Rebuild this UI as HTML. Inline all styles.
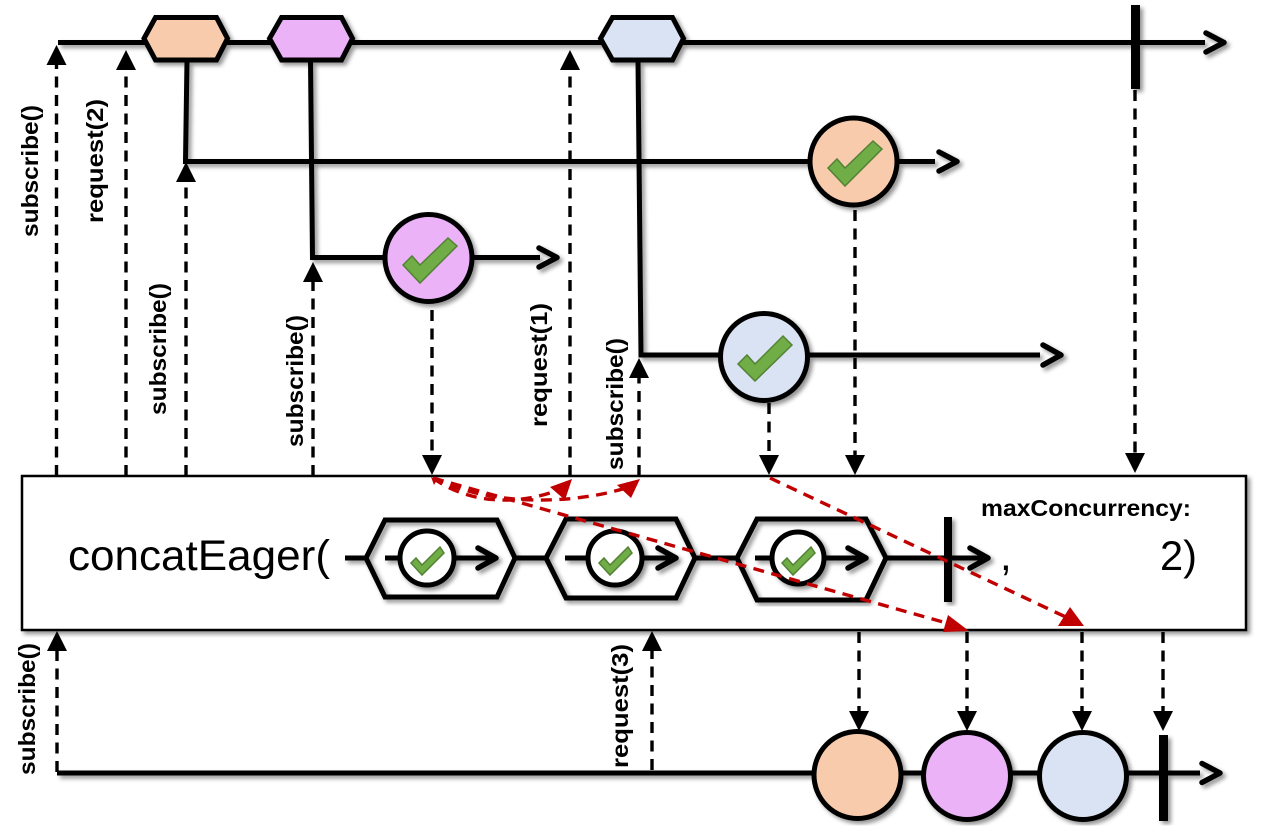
<!DOCTYPE html>
<html><head><meta charset="utf-8"><style>
html,body{margin:0;padding:0;background:#fff}
svg{display:block}
.l{font-family:"Liberation Sans",sans-serif;font-weight:bold;font-size:23px;fill:#000}
.k{fill:none;stroke:#000;stroke-width:5}
.a{fill:none;stroke:#000;stroke-width:5.5;stroke-linecap:round;stroke-linejoin:round}
.d{fill:none;stroke:#000;stroke-width:3.4;stroke-dasharray:11 7.5}
.r{fill:none;stroke:#c00000;stroke-width:3.4;stroke-dasharray:11 7.5}
.c{stroke:#000;stroke-width:5}
.t{fill:#70ad47;stroke:#548235;stroke-width:1.5}
</style></head><body>
<svg width="1262" height="838" viewBox="0 0 1262 838" xmlns="http://www.w3.org/2000/svg">
<defs>
<filter id="s" x="-5%" y="-5%" width="110%" height="110%"><feDropShadow dx="3" dy="3" stdDeviation="2.2" flood-color="#000" flood-opacity=".42"/></filter>
</defs>
<rect width="1262" height="838" fill="#fff"/>

<g filter="url(#s)">
<path class="k" d="M187 60L185.500 161.500H935M310.500 60L312.500 257.500H540M638 60L641 355H1040M58 42.500H1205"/>
<path class="a" d="M939 152L957 161.500L939 171M539 248L557 257.500L539 267M1043 345L1061 355L1043 365M1206 33L1224 42.500L1206 52"/>
<polygon class="c" points="144,38.500 155.500,17.500 216.500,17.500 227.500,38.500 216.500,60 155.500,60" fill="#f8cbad"/>
<polygon class="c" points="269.500,38.500 281.500,17.500 341.500,17.500 352.500,38.500 341.500,60 281.500,60" fill="#ebb2f8"/>
<polygon class="c" points="600.500,38.500 612.500,17.500 672.500,17.500 683.500,38.500 672.500,60 612.500,60" fill="#dae3f3"/>
<rect x="1131" y="5" width="9" height="84" fill="#000"/>
<circle class="c" cx="853.500" cy="161.500" r="43.500" fill="#f8cbad"/>
<circle class="c" cx="428.500" cy="258" r="43.500" fill="#ebb2f8"/>
<circle class="c" cx="764" cy="357" r="43.500" fill="#dae3f3"/>
</g>
<polygon class="t" points="828,168 837,159 845,168 873,141 882,149 845,186"/>
<polygon class="t" points="403,265 412,256 420,265 448,238 457,246 420,283"/>
<polygon class="t" points="738,364 747,355 755,364 783,336 792,345 755,381"/>

<g>
<line class="d" x1="56.500" y1="476" x2="56.500" y2="64"/><polygon points="46.500,65 66.500,65 56.500,45"/>
<line class="d" x1="126" y1="476" x2="126" y2="70"/><polygon points="116,70 136,70 126,50"/>
<line class="d" x1="186" y1="476" x2="186" y2="182"/><polygon points="176,182 196,182 186,162"/>
<line class="d" x1="313" y1="476" x2="313" y2="282"/><polygon points="303,282 323,282 313,262"/>
<line class="d" x1="570" y1="476" x2="570" y2="70"/><polygon points="560,70 580,70 570,50"/>
<line class="d" x1="639" y1="476" x2="639" y2="378"/><polygon points="629,378 649,378 639,358"/>
<line class="d" x1="432" y1="310" x2="432" y2="456"/><polygon points="422,455 442,455 432,475"/>
<line class="d" x1="769" y1="403" x2="769" y2="456"/><polygon points="759,455 779,455 769,475"/>
<line class="d" x1="855" y1="210" x2="855" y2="456"/><polygon points="845,455 865,455 855,475"/>
<line class="d" x1="1135" y1="90" x2="1135" y2="454"/><polygon points="1125,453 1145,453 1135,473"/>
</g>

<rect x="22" y="476" width="1224" height="154" fill="#fff" stroke="#000" stroke-width="2.500" filter="url(#s)"/>

<g filter="url(#s)">
<path class="k" d="M345 558H366M385 558H495M515 558H546M565 558H675M695 558H737M755 558H866M886 558H985"/>
<path class="a" d="M478 548L496 558L478 568M658 548L676 558L658 568M848 548L866 558L848 568M970 548L988 558L970 568"/>
<polygon points="366,558 385,520 497,520 515,558 497,597 385,597" fill="none" stroke="#000" stroke-width="5"/>
<polygon points="546,558 566,519 676,519 695,558 676,598 566,598" fill="none" stroke="#000" stroke-width="5"/>
<polygon points="737,558 757,519 866,519 886,558 866,600 757,600" fill="none" stroke="#000" stroke-width="5"/>
<circle class="c" cx="427" cy="558" r="27" fill="#fff"/>
<circle class="c" cx="615" cy="558" r="27" fill="#fff"/>
<circle class="c" cx="798" cy="558" r="26" fill="#fff"/>
<rect x="944" y="517" width="8" height="85" fill="#000"/>
</g>
<polygon class="t" points="411,563 416,558 422,565 440,547 444,553 422,575"/>
<polygon class="t" points="599,563 604,558 610,565 628,547 632,553 610,575"/>
<polygon class="t" points="782,563 787,558 793,565 811,547 815,553 793,575"/>

<text x="68" y="570" textLength="262" lengthAdjust="spacingAndGlyphs" style="font-family:'Liberation Sans',sans-serif;font-size:43px">concatEager(</text>
<text x="1000" y="570" style="font-family:'Liberation Sans',sans-serif;font-size:42px">,</text>
<text x="1160" y="570" textLength="37" lengthAdjust="spacingAndGlyphs" style="font-family:'Liberation Sans',sans-serif;font-size:42px">2)</text>
<text class="l" x="981" y="516" textLength="210" lengthAdjust="spacingAndGlyphs">maxConcurrency:</text>

<path class="r" d="M433 478C470 505 520 505 558 490"/>
<path class="r" d="M433 478C490 506 570 505 626 488"/>
<line class="r" x1="433" y1="478" x2="950" y2="624"/>
<line class="r" x1="770" y1="478" x2="1070" y2="619"/>
<polygon points="572,479 550,487 565,500" fill="#c00000"/>
<polygon points="640,479 617,485 631,498" fill="#c00000"/>
<polygon points="969,631 948,615 943,632" fill="#c00000"/>
<polygon points="1084,626 1058,626 1070,607" fill="#c00000"/>
<polygon points="431,477 437,480 434,485" fill="#c00000"/>

<g>
<line class="d" x1="57" y1="772" x2="57" y2="651"/><polygon points="47,651 67,651 57,631"/>
<line class="d" x1="652" y1="770" x2="652" y2="651"/><polygon points="642,651 662,651 652,631"/>
<line class="d" x1="859" y1="632" x2="859" y2="712"/><polygon points="849,711 869,711 859,731"/>
<line class="d" x1="967" y1="632" x2="967" y2="712"/><polygon points="957,711 977,711 967,731"/>
<line class="d" x1="1082" y1="632" x2="1082" y2="712"/><polygon points="1072,711 1092,711 1082,731"/>
<line class="d" x1="1163" y1="632" x2="1163" y2="712"/><polygon points="1153,711 1173,711 1163,731"/>
</g>

<g filter="url(#s)">
<path class="k" d="M57 773H1200"/>
<path class="a" d="M1202 763.500L1220 773L1202 782.500"/>
<circle class="c" cx="857.500" cy="775" r="43.500" fill="#f8cbad"/>
<circle class="c" cx="967" cy="776" r="43.500" fill="#ebb2f8"/>
<circle class="c" cx="1083" cy="776" r="43.500" fill="#dae3f3"/>
<rect x="1159" y="735" width="9" height="86" fill="#000"/>
</g>

<text class="l" transform="translate(38 237) rotate(-90)" textLength="132" lengthAdjust="spacingAndGlyphs">subscribe()</text>
<text class="l" transform="translate(103 223) rotate(-90)" textLength="124" lengthAdjust="spacingAndGlyphs">request(2)</text>
<text class="l" transform="translate(166 415) rotate(-90)" textLength="132" lengthAdjust="spacingAndGlyphs">subscribe()</text>
<text class="l" transform="translate(303 447) rotate(-90)" textLength="132" lengthAdjust="spacingAndGlyphs">subscribe()</text>
<text class="l" transform="translate(547 427) rotate(-90)" textLength="124" lengthAdjust="spacingAndGlyphs">request(1)</text>
<text class="l" transform="translate(623 470) rotate(-90)" textLength="132" lengthAdjust="spacingAndGlyphs">subscribe()</text>
<text class="l" transform="translate(35 775) rotate(-90)" textLength="132" lengthAdjust="spacingAndGlyphs">subscribe()</text>
<text class="l" transform="translate(628 768) rotate(-90)" textLength="124" lengthAdjust="spacingAndGlyphs">request(3)</text>
</svg>
</body></html>
